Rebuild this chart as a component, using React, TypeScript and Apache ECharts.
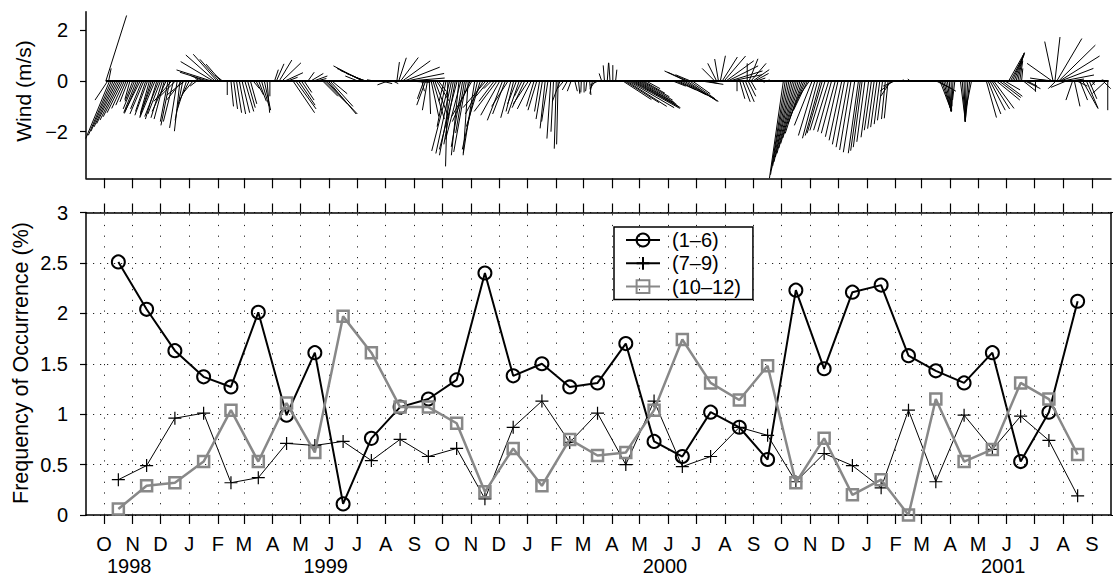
import React, { useEffect, useRef } from 'react';
import * as echarts from 'echarts';

const FONT = '"Liberation Sans", Arial, Helvetica, sans-serif';

// Month starts used for ticks (Oct 1998 .. Sep 2001)
const tickMonths = [
  '1998-10', '1998-11', '1998-12',
  '1999-01', '1999-02', '1999-03', '1999-04', '1999-05', '1999-06', '1999-07', '1999-08', '1999-09', '1999-10', '1999-11', '1999-12',
  '2000-01', '2000-02', '2000-03', '2000-04', '2000-05', '2000-06', '2000-07', '2000-08', '2000-09', '2000-10', '2000-11', '2000-12',
  '2001-01', '2001-02', '2001-03', '2001-04', '2001-05', '2001-06', '2001-07', '2001-08', '2001-09',
];
const monthLetters = ['J', 'F', 'M', 'A', 'M', 'J', 'J', 'A', 'S', 'O', 'N', 'D'];
// Year captions and the month tick they sit under
const yearMonths = ['1998-11', '1999-06', '2000-06', '2001-06'];
const yearNames = ['1998', '1999', '2000', '2001'];

// Monthly data months (Oct 1998 .. Aug 2001)
const dataMonths = tickMonths.slice(0, 35);

const freq1to6 = [2.51, 2.04, 1.63, 1.37, 1.27, 2.01, 0.99, 1.61, 0.11, 0.76, 1.07, 1.15, 1.34, 2.40, 1.38, 1.50, 1.27, 1.31, 1.70, 0.73, 0.58, 1.02, 0.87, 0.55, 2.23, 1.45, 2.21, 2.28, 1.58, 1.43, 1.31, 1.61, 0.53, 1.02, 2.12];
const freq7to9 = [0.35, 0.49, 0.96, 1.01, 0.32, 0.37, 0.71, 0.69, 0.73, 0.54, 0.75, 0.58, 0.66, 0.16, 0.87, 1.13, 0.72, 1.01, 0.50, 1.13, 0.48, 0.58, 0.87, 0.79, 0.33, 0.61, 0.49, 0.27, 1.04, 0.33, 0.99, 0.65, 0.98, 0.74, 0.19];
const freq10to12 = [0.06, 0.29, 0.32, 0.53, 1.04, 0.53, 1.11, 0.62, 1.97, 1.61, 1.07, 1.07, 0.91, 0.23, 0.66, 0.29, 0.75, 0.59, 0.62, 1.04, 1.74, 1.31, 1.14, 1.48, 0.32, 0.76, 0.20, 0.35, 0.00, 1.15, 0.53, 0.65, 1.31, 1.15, 0.60];

const windTicks = [-2, 0, 2];

// Wind sticks: [day since 1 Oct 1998, u (m/s), v (m/s)]
const windSticks: [number, number, number][] = [
  [2, 0.82, 2.59], [4, -0.5, -0.75], [5, 0.1, 0.5],
  [6, -0.94, -2.27], [8, -0.91, -2.14], [10, -0.88, -1.98], [12, -0.83, -1.81], [14, -0.8, -1.68], [16, -0.74, -1.54], [18, -0.69, -1.41], [20, -0.61, -1.25], [22, -0.5, -1.08], [24, -0.41, -0.95], [26, -0.32, -0.82], [28, -0.2, -0.73],
  [31, -0.3, -0.8], [33, -0.45, -1.1], [35, -0.5, -1.25], [37, -0.55, -1.28], [39, -0.6, -1.2], [41, -0.45, -1.1], [43, -0.55, -1.3], [45, -0.4, -1.2], [47, -0.5, -1.35], [49, -0.35, -1.25], [51, -0.45, -1.4], [53, -0.5, -1.3], [55, -0.6, -1.45], [57, -0.45, -1.5], [59, -0.55, -1.4],
  [61, -0.5, -1.3], [63, -0.45, -1.45], [65, -0.4, -1.5], [67, -0.55, -1.2], [69, -0.3, -1.6], [71, -0.35, -1.75], [73, -0.7, -0.8], [75, -0.4, -1.6], [77, -0.6, -0.6], [79, -0.3, -1.85], [82, -0.22, -1.98], [84, -0.6, -0.75], [85, -0.3, -1.55], [87, -0.7, -0.55], [89, -0.37, -1.15], [92, -0.4, -0.8], [96, -0.4, -0.49], [100, -0.26, -0.2],
  [104, -0.2, 0.1], [108, -0.5, 0.2], [112, -1.1, 0.35],
  [116, -1.38, 0.44], [118, -1.29, 0.77], [120, -1.16, 1.03], [122, -0.94, 1.06], [124, -0.75, 0.86], [126, -0.58, 0.67], [128, -0.3, 0.24],
  [133, 0.0, -0.55], [137, 0.1, -1.0], [140, 0.15, -1.1], [143, 0.2, -1.25], [146, 0.25, -1.3], [149, 0.3, -1.25], [152, 0.35, -1.2], [155, 0.3, -1.05], [158, 0.25, -0.9],
  [161, 0.25, -0.3], [164, 0.3, -0.55], [167, 0.3, -0.8], [170, 0.3, -1.0], [173, 0.25, -1.15], [176, 0.1, -1.25], [179, 0.0, -0.6],
  [184, 0.15, 0.45], [186, 0.3, 0.68], [189, 0.5, 0.83], [192, 0.75, 0.72], [195, 0.72, 0.33], [198, 0.4, 0.15],
  [204, 0.85, -1.25], [207, 0.8, -1.1], [210, 0.65, -0.95], [213, 0.5, -0.75], [216, 0.3, -0.45],
  [220, 0.25, 0.35], [223, 0.5, 0.3], [226, 0.55, 0.2], [229, 0.4, 0.1],
  [236, 0.6, -0.6], [238, 0.9, -0.9], [240, 1.22, -1.3], [242, 1.1, -1.3], [244, 0.9, -1.0], [246, 0.6, -0.5],
  [274, -0.5, 0.2], [279, -1.15, 0.6], [280, -1.05, 0.5], [281, -0.95, 0.42], [282, -0.75, 0.3], [283, -0.45, 0.15], [292, -0.3, 0.05],
  [300, 0.4, -0.1], [306, -0.4, -0.15], [312, 0.2, -0.1],
  [316, 0.1, 0.75], [318, 0.3, 0.92], [320, 0.7, 0.93], [322, 1.1, 0.8], [324, 1.4, 0.55], [326, 1.5, 0.3], [328, 1.45, 0.12], [330, 0.8, -0.05],
  [343, 0.1, -0.4], [345, -0.25, -0.7], [347, -0.35, -0.95], [349, -0.2, -1.15], [351, 0.05, -1.3], [353, 0.3, -1.4], [355, 0.45, -1.5], [357, 0.55, -1.45], [359, 0.5, -0.8], [361, 0.3, -0.4],
  [367, -0.2, -0.8], [369, -0.35, -1.8], [371, -0.09, -3.37], [373, -0.71, -2.76], [375, -0.62, -2.86], [377, -0.55, -2.93], [379, -0.45, -2.5], [381, -0.7, -2.7], [383, -0.3, -2.93], [385, -0.6, -2.3], [387, -0.45, -2.6], [389, -0.35, -2.05], [391, -0.5, -2.8], [393, -0.2, -2.93], [395, -0.7, -1.6],
  [397, -0.8, -1.4], [400, -0.45, -2.85], [403, -0.6, -2.7], [406, -0.55, -1.8], [409, -0.7, -1.3], [412, -0.9, -1.05], [415, -0.5, -0.6], [418, -0.3, -0.3], [421, -0.6, -0.8], [424, -0.9, -1.2],
  [427, -0.75, -1.35], [430, -0.6, -1.55], [433, -0.5, -1.3], [436, -0.65, -1.0], [439, -0.4, -1.45], [442, -0.3, -1.2], [445, -0.35, -0.9], [448, -0.45, -1.3], [451, -0.3, -0.6], [454, -0.5, -1.05],
  [458, -0.6, -0.9], [461, -0.55, -1.1], [464, -0.3, -1.0], [467, -0.35, -1.15], [470, -0.2, -1.2], [473, -0.25, -1.5], [476, -0.2, -1.87], [479, -0.25, -1.6], [482, -0.15, -2.27], [485, -0.1, -2.0], [488, -0.08, -2.67], [490, -0.06, -2.5], [492, -0.3, -0.8],
  [496, -0.25, -0.3], [500, -0.2, -0.35], [504, -0.15, -0.4], [508, 0.1, -0.4], [512, 0.05, -0.5],
  [515, -0.02, -0.45], [518, 0.0, -0.45], [521, -0.05, -0.4], [524, 0.05, -0.55], [527, -0.1, -0.5], [530, -0.2, -0.3], [533, -0.3, -0.15],
  [537, -0.1, 0.3], [540, -0.05, 0.62], [543, 0.05, 0.72], [546, -0.05, 0.72], [549, 0.0, 0.63], [552, 0.05, 0.45],
  [560, 1.12, -0.73], [562, 1.35, -0.85], [564, 1.58, -1.0], [566, 1.8, -1.05], [568, 1.95, -1.08], [570, 1.9, -1.05], [572, 1.75, -1.0], [574, 1.6, -0.92], [576, 1.45, -0.85], [578, 1.3, -0.75], [580, 1.1, -0.62], [582, 0.85, -0.48], [585, 0.55, -0.3],
  [614, 0.5, -0.2], [617, 0.8, -0.35], [620, 1.1, -0.55], [623, 1.3, -0.7], [626, 1.35, -0.8], [628, -0.85, 0.4], [629, 1.2, -0.8], [630, -0.8, 0.35], [632, 1.0, -0.7], [633, -0.6, 0.25], [635, 0.7, -0.5],
  [645, 0.85, -0.13], [650, 0.5, -0.1], [659, -0.5, 0.5], [661, -0.35, 0.7], [663, -0.15, 0.87], [665, 0.2, 1.0], [667, 0.6, 0.95], [669, 0.85, 0.99], [671, 1.1, 0.8], [673, 1.2, 0.6], [675, 1.3, 0.4], [677, 1.2, 0.25],
  [683, 0.0, -0.4], [686, 0.2, -0.7], [689, 0.3, -0.82], [692, 0.35, -0.82], [695, 0.3, -0.6], [698, 0.2, -0.35],
  [694, 0.0, 0.7], [696, 0.35, 0.88], [698, 0.6, 0.7], [700, 0.65, 0.45], [702, 0.55, 0.3], [704, 0.35, 0.12],
  [710, 0.1, -0.05], [720, -0.1, 0.05],
  [733, -0.55, -3.84], [735, -0.58, -3.7], [737, -0.62, -3.52], [739, -0.64, -3.35], [741, -0.66, -3.19], [743, -0.68, -3.0], [745, -0.69, -2.86], [747, -0.69, -2.65], [749, -0.69, -2.47], [751, -0.68, -2.25], [753, -0.66, -2.07], [755, -0.62, -1.68], [757, -0.6, -1.4], [759, -0.55, -1.15], [761, -0.42, -0.62],
  [764, -0.7, -1.75], [767, -0.65, -2.15], [770, -0.6, -2.26], [773, -0.6, -2.15], [775, -0.6, -2.06], [778, -0.6, -1.95], [782, -0.6, -1.94], [785, -0.55, -2.0], [789, -0.55, -2.06], [792, -0.5, -2.2], [796, -0.5, -2.34], [799, -0.48, -2.5], [803, -0.48, -2.61], [806, -0.45, -2.72], [810, -0.45, -2.81], [814, -0.4, -2.85], [816, -0.38, -2.75], [818, -0.35, -2.61], [821, -0.32, -2.4], [825, -0.3, -2.22], [828, -0.28, -1.94], [831, -0.26, -1.88], [834, -0.25, -1.82], [837, -0.22, -1.7], [840, -0.2, -1.55], [843, -0.15, -1.5], [846, -0.15, -1.47],
  [849, -0.4, -0.6], [851, -0.5, -0.4], [853, -0.45, -0.2],
  [860, 0.1, 0.05], [870, -0.1, 0.08],
  [898, 0.6, -0.3], [900, 0.7, -0.4],
  [902, 0.44, -1.15], [904, 0.37, -1.17], [906, 0.29, -1.19], [908, 0.22, -1.2], [910, 0.15, -1.21], [912, 0.08, -1.2], [914, 0.02, -1.18], [916, -0.04, -1.0], [918, -0.09, -0.75],
  [924, 0.2, -1.6], [926, 0.12, -1.6], [928, 0.04, -1.61], [930, -0.03, -1.6], [932, -0.1, -1.6], [934, -0.17, -1.55], [936, -0.26, -1.3],
  [952, 0.4, -1.44], [954, 0.5, -1.3], [956, 0.6, -1.15], [958, 0.7, -1.1], [960, 0.8, -1.08], [963, 0.92, -0.75], [966, 0.85, -0.65], [969, 0.8, -0.6], [972, 0.6, -0.35],
  [976, 0.63, 1.12], [978, 0.55, 1.05], [980, 0.48, 1.1], [982, 0.4, 1.12], [984, 0.3, 1.05], [986, 0.2, 0.95], [988, 0.12, 0.8], [990, 0.05, 0.5],
  [992, 0.5, -0.4], [994, 0.6, -0.3], [996, 0.4, -0.2], [1005, 0, -0.42],
  [1021, -0.8, 0.12], [1023, -0.99, 0.7], [1024, -0.33, 1.56], [1026, 0.2, 1.74], [1027, -0.3, -0.3], [1028, 0.99, 1.68], [1029, -0.7, 0.05], [1030, 1.45, 1.42], [1031, 1.58, 0.99], [1032, 1.3, 0.5], [1034, 1.25, 0.24], [1038, -0.6, -0.25], [1041, 0.6, 0.08],
  [1045, -0.26, -0.75], [1047, 0.22, -1.0], [1050, 0.4, -0.2], [1053, 0.3, -0.75], [1056, 0.6, -1.08], [1060, 0.46, -1.08], [1063, 0.3, -0.7], [1066, 0.1, -0.15], [1070, -0.2, -0.2], [1074, 0.15, 0.05], [1078, 0.3, -0.3], [1081, -0.53, -0.49], [1083, 0.0, -1.15],
];
const windBaselineDays = [2, 1084];

const BASE = Date.UTC(1998, 9, 1);
const DAY = 86400000;
function parseYM(ym: string) {
  const [y, m] = ym.split('-').map(Number);
  return { y, m };
}
function dayOf(ym: string) {
  const { y, m } = parseYM(ym);
  return (Date.UTC(y, m - 1, 1) - BASE) / DAY;
}
function midDay(ym: string) {
  const { y, m } = parseYM(ym);
  const a = (Date.UTC(y, m - 1, 1) - BASE) / DAY;
  const b = (Date.UTC(y, m, 1) - BASE) / DAY;
  return (a + b) / 2;
}

const tickDays = tickMonths.map(dayOf);
const yearDays = yearMonths.map(dayOf);
const X_MIN = -19.4;
const X_MAX = 1086.5;

function nearestIndex(list: number[], val: number) {
  let idx = 0;
  let best = Infinity;
  list.forEach((d, i) => {
    if (Math.abs(d - val) < best) { best = Math.abs(d - val); idx = i; }
  });
  return idx;
}
function monthLabel(val: number) {
  const { m } = parseYM(tickMonths[nearestIndex(tickDays, val)]);
  return monthLetters[m - 1];
}
function yearLabel(val: number) {
  return yearNames[nearestIndex(yearDays, val)];
}

const axisLineStyle = { color: '#000', width: 1.5 };
const tickLineStyle = { color: '#000', width: 1.2 };
const dotStyleV = { color: '#222', width: 1, type: [1.2, 9.5] };
const dotStyleH = { color: '#222', width: 1, type: [1.2, 5.8] };

export default function App() {
  const ref = useRef<HTMLDivElement>(null);
  useEffect(() => {
    if (!ref.current) return;
    const chart = echarts.init(ref.current, undefined, { renderer: 'svg' });
    const option: any = {
      animation: false,
      backgroundColor: '#fff',
      textStyle: { fontFamily: FONT, color: '#000' },
      grid: [
        { left: 86, top: 11.7, width: 1025, height: 166.6, outerBoundsMode: 'none' },
        { left: 86, top: 212.5, width: 1025, height: 302.5, outerBoundsMode: 'none' },
        { left: 86, top: 514, width: 1025, height: 1, outerBoundsMode: 'none' },
      ],
      legend: {
        data: ['(1–6)', '(7–9)', '(10–12)'],
        orient: 'vertical',
        left: 614,
        top: 227,
        padding: [3, 12, 3, 11],
        itemGap: 3.3,
        itemWidth: 34,
        itemHeight: 16,
        borderColor: '#000',
        borderWidth: 1.5,
        borderRadius: 0,
        backgroundColor: '#fff',
        textStyle: { fontSize: 20, lineHeight: 20, color: '#000', fontFamily: FONT, padding: [0, 0, 0, 7] },
      },
      xAxis: [
        {
          type: 'value', gridIndex: 0, min: X_MIN, max: X_MAX, position: 'bottom',
          axisLine: { show: true, onZero: false, lineStyle: axisLineStyle },
          axisTick: { show: true, inside: false, length: 10, customValues: tickDays, lineStyle: tickLineStyle },
          axisLabel: { show: false },
          splitLine: { show: false },
        },
        {
          type: 'value', gridIndex: 1, min: X_MIN, max: X_MAX, position: 'bottom',
          axisLine: { show: true, onZero: false, lineStyle: axisLineStyle },
          axisTick: { show: true, inside: false, length: 9, customValues: tickDays, lineStyle: tickLineStyle },
          axisLabel: {
            show: true, customValues: tickDays, margin: 19.5, formatter: monthLabel,
            showMinLabel: true, showMaxLabel: true, hideOverlap: false,
            color: '#000', fontFamily: FONT, fontSize: 20, lineHeight: 18,
          },
          splitLine: { show: false },
        },
        {
          type: 'value', gridIndex: 1, min: X_MIN, max: X_MAX, position: 'top',
          axisLine: { show: true, onZero: false, lineStyle: axisLineStyle },
          axisTick: { show: true, inside: false, length: 9, customValues: tickDays, lineStyle: tickLineStyle },
          axisLabel: { show: false },
          splitLine: { show: false },
        },
        {
          type: 'value', gridIndex: 2, min: X_MIN, max: X_MAX, position: 'bottom',
          axisLine: { show: false, onZero: false },
          axisTick: { show: false },
          axisLabel: {
            show: true, customValues: yearDays, margin: 41.5, formatter: yearLabel,
            showMinLabel: true, showMaxLabel: true, hideOverlap: false,
            color: '#000', fontFamily: FONT, fontSize: 20, lineHeight: 18, padding: [0, 7, 0, 0],
          },
          splitLine: { show: false },
        },
      ],
      yAxis: [
        {
          type: 'value', gridIndex: 0, min: -3.84, max: 2.74, position: 'left',
          axisLine: { show: true, onZero: false, lineStyle: axisLineStyle },
          axisTick: { show: true, inside: false, length: 6, customValues: windTicks, lineStyle: tickLineStyle },
          axisLabel: {
            show: true, customValues: windTicks, margin: 18, fontSize: 20, color: '#000', fontFamily: FONT,
            formatter: (v: number) => (v < 0 ? '\u2212' + Math.abs(v) : String(v)),
          },
          splitLine: { show: false },
        },
        {
          type: 'value', gridIndex: 1, min: 0, max: 3, interval: 0.5, position: 'left',
          axisLine: { show: true, onZero: false, lineStyle: axisLineStyle },
          axisTick: { show: true, inside: false, length: 6, lineStyle: tickLineStyle },
          axisLabel: { show: true, margin: 18, fontSize: 20, color: '#000', fontFamily: FONT },
          splitLine: { show: true, lineStyle: dotStyleH },
        },
        {
          type: 'value', gridIndex: 1, min: 0, max: 3, interval: 0.5, position: 'right',
          axisLine: { show: true, onZero: false, lineStyle: axisLineStyle },
          axisTick: { show: true, inside: false, length: 6, lineStyle: tickLineStyle },
          axisLabel: { show: false },
          splitLine: { show: false },
        },
        {
          type: 'value', gridIndex: 2, min: 0, max: 1, show: false,
        },
      ],
      graphic: [
        {
          type: 'text', x: 23, y: 91, rotation: Math.PI / 2, silent: true,
          style: { text: 'Wind (m/s)', fontSize: 21, fontFamily: FONT, fill: '#000', align: 'center', verticalAlign: 'middle' },
        },
        {
          type: 'text', x: 21, y: 363, rotation: Math.PI / 2, silent: true,
          style: { text: 'Frequency of Occurrence (%)', fontSize: 21.5, fontFamily: FONT, fill: '#000', align: 'center', verticalAlign: 'middle' },
        },
      ],
      series: [
        {
          name: 'monthGrid', type: 'line', xAxisIndex: 1, yAxisIndex: 1, silent: true, z: 0,
          data: [], symbol: 'none',
          markLine: {
            silent: true, symbol: ['none', 'none'], animation: false,
            label: { show: false },
            lineStyle: dotStyleV,
            emphasis: { disabled: true },
            data: tickDays.map((d) => ({ xAxis: d })),
          },
        },
        {
          name: 'baseline', type: 'line', xAxisIndex: 0, yAxisIndex: 0, silent: true,
          data: windBaselineDays.map((d) => [d, 0]), symbol: 'none',
          lineStyle: { color: '#000', width: 2 }, z: 1,
        },
        {
          name: 'wind', type: 'custom', xAxisIndex: 0, yAxisIndex: 0, silent: true, clip: false,
          dimensions: ['day', 'u', 'v'],
          encode: { x: 0, y: 2 },
          data: windSticks,
          renderItem: (params: any, api: any) => {
            const d = api.value(0);
            const u = api.value(1);
            const v = api.value(2);
            const p = api.coord([d, 0]);
            const k = api.size([0, 1])[1];
            return {
              type: 'line',
              shape: { x1: p[0], y1: p[1], x2: p[0] + u * k, y2: p[1] - v * k },
              style: { stroke: '#000', lineWidth: 1 },
            };
          },
          z: 2,
        },
        {
          name: '(1–6)', type: 'line', xAxisIndex: 1, yAxisIndex: 1,
          data: dataMonths.map((m, i) => [midDay(m), freq1to6[i]]),
          symbol: 'circle', symbolSize: 13,
          lineStyle: { color: '#000', width: 2 },
          itemStyle: { color: 'rgba(255,255,255,0)', borderColor: '#000', borderWidth: 2 },
          z: 3,
        },
        {
          name: '(7–9)', type: 'line', xAxisIndex: 1, yAxisIndex: 1,
          data: dataMonths.map((m, i) => [midDay(m), freq7to9[i]]),
          symbol: 'path://M5,0L5,10M0,5L10,5', symbolSize: 13,
          lineStyle: { color: '#000', width: 1 },
          itemStyle: { color: 'rgba(255,255,255,0)', borderColor: '#000', borderWidth: 1.2 },
          z: 4,
        },
        {
          name: '(10–12)', type: 'line', xAxisIndex: 1, yAxisIndex: 1,
          data: dataMonths.map((m, i) => [midDay(m), freq10to12[i]]),
          symbol: 'rect', symbolSize: 11,
          lineStyle: { color: '#888', width: 2.5 },
          itemStyle: { color: 'rgba(255,255,255,0)', borderColor: '#888', borderWidth: 2.5 },
          z: 5,
        },
      ],
    };
    chart.setOption(option);
    return () => chart.dispose();
  }, []);
  return <div ref={ref} style={{ position: 'absolute', left: 0, top: 0, width: 1113, height: 576 }} />;
}
